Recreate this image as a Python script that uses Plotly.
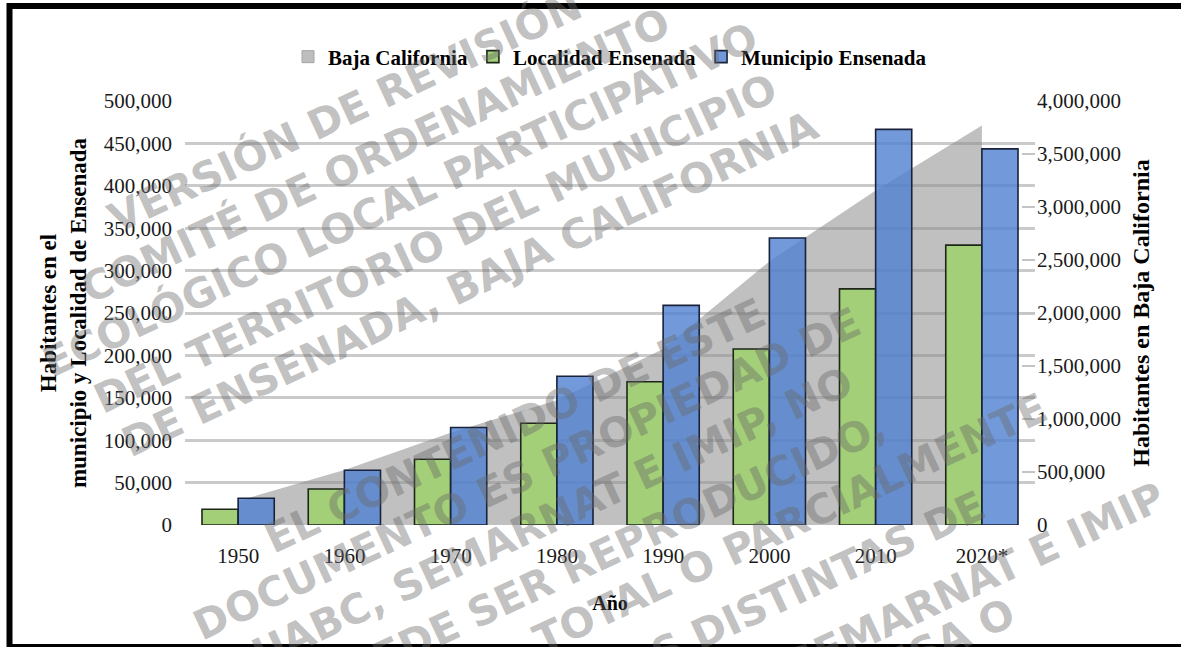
import plotly.graph_objects as go

# ---------------- data ----------------
years = ["1950", "1960", "1970", "1980", "1990", "2000", "2010", "2020*"]
baja_california = [227000, 520000, 870000, 1178000, 1661000, 2487000, 3155000, 3769000]
localidad_ensenada = [18500, 42500, 77500, 120000, 169000, 207500, 278500, 330000]
municipio_ensenada = [31500, 64500, 115000, 175500, 259000, 338500, 466500, 443500]

left_ticks = list(range(0, 500001, 50000))
right_ticks = list(range(0, 4000001, 500000))

watermark_lines = [
    "VERSIÓN DE REVISIÓN",
    "COMITÉ DE ORDENAMIENTO",
    "ECOLÓGICO LOCAL PARTICIPATIVO",
    "DEL TERRITORIO DEL MUNICIPIO",
    "DE ENSENADA, BAJA CALIFORNIA",
    "EL CONTENIDO DE ESTE",
    "DOCUMENTO ES PROPIEDAD DE",
    "UABC, SEMARNAT E IMIP, NO",
    "PUEDE SER REPRODUCIDO,",
    "TOTAL O PARCIALMENTE",
    "POR PERSONAS DISTINTAS DE",
    "UABC, SEMARNAT E IMIP",
    "SIN AUTORIZACIÓN EXPRESA O",
]
# approximate centre of each watermark line in page pixels
watermark_pos = [
    (345, 112), (375, 156), (400, 200), (435, 244), (470, 284),
    (515, 426), (527, 474), (552, 518), (600, 556), (790, 524),
    (668, 650), (905, 614), (687, 762),
]

# ---------------- layout geometry ----------------
W, H = 1181, 647
ML, MR, MT, MB = 185, 146, 101, 122
PW, PH = W - ML - MR, H - MT - MB


def px(x, y):
    return (x - ML) / PW, (H - MB - y) / PH


SERIF = "Liberation Serif, Times New Roman, serif"
GRAY_FILL = "rgba(140,140,140,0.55)"

fig = go.Figure()

fig.add_trace(go.Scatter(
    x=years, y=baja_california, name="Baja California",
    mode="lines", fill="tozeroy", legendgroup="bc", showlegend=False,
    line=dict(width=0, color=GRAY_FILL), fillcolor=GRAY_FILL,
    xaxis="x", yaxis="y",
))
# legend key (square swatch) for the Baja California area
fig.add_trace(go.Bar(
    x=years, y=[None] * len(years), name="Baja California", legendgroup="bc",
    marker=dict(color="rgb(190,190,190)", line=dict(color="rgb(165,165,165)", width=1)),
    xaxis="x", yaxis="y", hoverinfo="skip",
))
fig.add_trace(go.Bar(
    x=years, y=localidad_ensenada, name="Localidad Ensenada",
    marker=dict(color="rgb(163,207,120)", line=dict(color="#1d2618", width=1.6)),
    xaxis="x", yaxis="y2",
))
fig.add_trace(go.Bar(
    x=years, y=municipio_ensenada, name="Municipio Ensenada",
    marker=dict(color="rgba(79,129,209,0.8)", line=dict(color="#18223a", width=1.6)),
    xaxis="x", yaxis="y2",
))

annotations = []
for (t, (xp, yp)) in zip(watermark_lines, watermark_pos):
    ax, ay = px(xp, yp)
    annotations.append(dict(
        text=t, x=ax, y=ay, xref="paper", yref="paper",
        xanchor="center", yanchor="middle", showarrow=False,
        textangle=-25,
        font=dict(family="DejaVu Sans, Liberation Sans, sans-serif", size=41,
                  weight="bold", color="rgba(105,105,105,0.42)"),
    ))

b_l, b_t = px(9.5, 6)
b_r, b_b = px(1195, 647)

fig.update_layout(
    width=W, height=H,
    margin=dict(l=ML, r=MR, t=MT, b=MB, autoexpand=False),
    paper_bgcolor="white", plot_bgcolor="white",
    barmode="group", bargap=0.32, bargroupgap=0,
    showlegend=True,
    legend=dict(
        orientation="h", x=0.5, xanchor="center", y=px(0, 57)[1], yanchor="middle",
        font=dict(family=SERIF, size=21, color="black", weight="bold"),
        itemwidth=30, traceorder="normal", bgcolor="rgba(0,0,0,0)",
    ),
    xaxis=dict(
        type="category", categoryorder="array", categoryarray=years,
        showgrid=False, showline=False, zeroline=False, ticks="",
        tickfont=dict(family=SERIF, size=21, color="#1a1a1a"),
        ticklabelstandoff=16,
        title=dict(text="Año", font=dict(family=SERIF, size=20, color="black", weight="bold"),
                   standoff=28),
    ),
    yaxis=dict(
        side="right", range=[0, 4000000], tickvals=right_ticks,
        tickformat=",d", showgrid=False, zeroline=False, showline=False,
        ticks="inside", ticklen=13, tickwidth=2, tickcolor="#c4c4c4",
        tickfont=dict(family=SERIF, size=21, color="#1a1a1a"),
        ticklabelstandoff=1,
        title=dict(text="Habitantes en Baja California",
                   font=dict(family=SERIF, size=24, color="black", weight="bold"),
                   standoff=12),
    ),
    yaxis2=dict(
        side="left", overlaying="y", range=[0, 500000], tickvals=left_ticks,
        tickformat=",d", showgrid=True, gridcolor="#cacaca", gridwidth=2.5,
        zeroline=False, showline=False, ticks="",
        tickfont=dict(family=SERIF, size=21, color="#1a1a1a"),
        ticklabelstandoff=12,
        title=dict(text="Habitantes en el<br>municipio y Localidad de Ensenada",
                   font=dict(family=SERIF, size=23, color="black", weight="bold"),
                   standoff=10),
    ),
    annotations=annotations,
    shapes=[dict(type="rect", xref="paper", yref="paper",
                 x0=b_l, x1=b_r, y0=b_b, y1=b_t,
                 line=dict(color="black", width=6), fillcolor="rgba(0,0,0,0)",
                 layer="above")],
)

fig.write_html("out.html", config={"displayModeBar": False},
               post_script="document.body.style.margin='0px';")
